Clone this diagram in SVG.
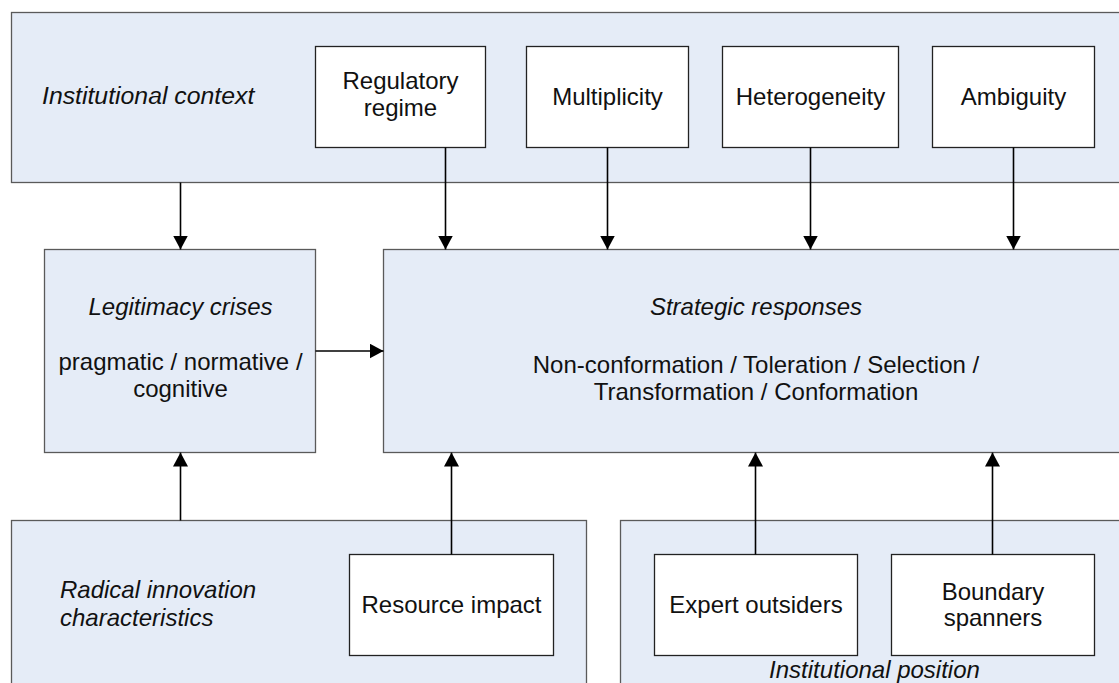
<svg xmlns="http://www.w3.org/2000/svg" width="1119" height="683" viewBox="0 0 1119 683">
  <defs>
    <style>
      .panel { fill: #e5ecf7; stroke: #5a5a5a; stroke-width: 1.3; }
      .item { fill: #ffffff; stroke: #222222; stroke-width: 1.3; }
      .lbl { font-family: "Liberation Sans", Arial, sans-serif; font-size: 24px; fill: #111111; }
      .it { font-style: italic; }
      .mid { text-anchor: middle; }
      .link { stroke: #000000; stroke-width: 1.6; fill: none; marker-end: url(#head); }
    </style>
    <marker id="head" markerUnits="userSpaceOnUse" viewBox="0 0 14 15" refX="14" refY="7.5" markerWidth="14" markerHeight="15" orient="auto">
      <path d="M0,0 L14,7.5 L0,15 Z" fill="#000000"/>
    </marker>
  </defs>

  <rect width="1119" height="683" fill="#ffffff"/>

  <!-- Institutional context panel with its four factors -->
  <g id="institutional-context">
    <rect class="panel" x="11.5" y="12.5" width="1120" height="170"/>
    <text class="lbl it" x="42" y="104" style="font-size:24.8px">Institutional context</text>
  </g>
  <g id="regulatory-regime">
    <rect class="item" x="315.5" y="46.5" width="170" height="101"/>
    <text class="lbl mid" x="400.5" y="88.5">Regulatory</text>
    <text class="lbl mid" x="400.5" y="116">regime</text>
  </g>
  <g id="multiplicity">
    <rect class="item" x="526.5" y="46.5" width="162" height="101"/>
    <text class="lbl mid" x="607.5" y="104.5">Multiplicity</text>
  </g>
  <g id="heterogeneity">
    <rect class="item" x="722.5" y="46.5" width="176" height="101"/>
    <text class="lbl mid" x="810.5" y="104.5">Heterogeneity</text>
  </g>
  <g id="ambiguity">
    <rect class="item" x="932.5" y="46.5" width="162" height="101"/>
    <text class="lbl mid" x="1013.5" y="104.5">Ambiguity</text>
  </g>

  <!-- Middle row -->
  <g id="legitimacy-crises">
    <rect class="panel" x="44.5" y="249.5" width="271" height="203"/>
    <text class="lbl it mid" x="180.5" y="314.5">Legitimacy crises</text>
    <text class="lbl mid" x="180.5" y="369.5">pragmatic / normative /</text>
    <text class="lbl mid" x="180.5" y="397">cognitive</text>
  </g>
  <g id="strategic-responses">
    <rect class="panel" x="383.5" y="249.5" width="750" height="203"/>
    <text class="lbl it mid" x="756" y="314.5">Strategic responses</text>
    <text class="lbl mid" x="756" y="372.5">Non-conformation / Toleration / Selection /</text>
    <text class="lbl mid" x="756" y="400">Transformation / Conformation</text>
  </g>

  <!-- Bottom row -->
  <g id="radical-innovation">
    <rect class="panel" x="11.5" y="520.5" width="575" height="200"/>
    <text class="lbl it" x="60" y="597.5">Radical innovation</text>
    <text class="lbl it" x="60" y="626">characteristics</text>
  </g>
  <g id="resource-impact">
    <rect class="item" x="349.5" y="554.5" width="204" height="101"/>
    <text class="lbl mid" x="451.5" y="613">Resource impact</text>
  </g>
  <g id="institutional-position">
    <rect class="panel" x="620.5" y="520.5" width="520" height="200"/>
    <text class="lbl it mid" x="874.5" y="678">Institutional position</text>
  </g>
  <g id="expert-outsiders">
    <rect class="item" x="654.5" y="554.5" width="203" height="101"/>
    <text class="lbl mid" x="756" y="613">Expert outsiders</text>
  </g>
  <g id="boundary-spanners">
    <rect class="item" x="891.5" y="554.5" width="203" height="101"/>
    <text class="lbl mid" x="993" y="599.5">Boundary</text>
    <text class="lbl mid" x="993" y="626">spanners</text>
  </g>

  <!-- Connectors -->
  <g id="connectors">
    <line class="link" x1="180.5" y1="182.5" x2="180.5" y2="249.5"/>
    <line class="link" x1="445.5" y1="147.5" x2="445.5" y2="249.5"/>
    <line class="link" x1="607.5" y1="147.5" x2="607.5" y2="249.5"/>
    <line class="link" x1="810.5" y1="147.5" x2="810.5" y2="249.5"/>
    <line class="link" x1="1013.5" y1="147.5" x2="1013.5" y2="249.5"/>
    <line class="link" x1="315.5" y1="351" x2="383.5" y2="351"/>
    <line class="link" x1="180.5" y1="520.5" x2="180.5" y2="452.5"/>
    <line class="link" x1="451.5" y1="554.5" x2="451.5" y2="452.5"/>
    <line class="link" x1="755.5" y1="554.5" x2="755.5" y2="452.5"/>
    <line class="link" x1="992.5" y1="554.5" x2="992.5" y2="452.5"/>
  </g>
</svg>
